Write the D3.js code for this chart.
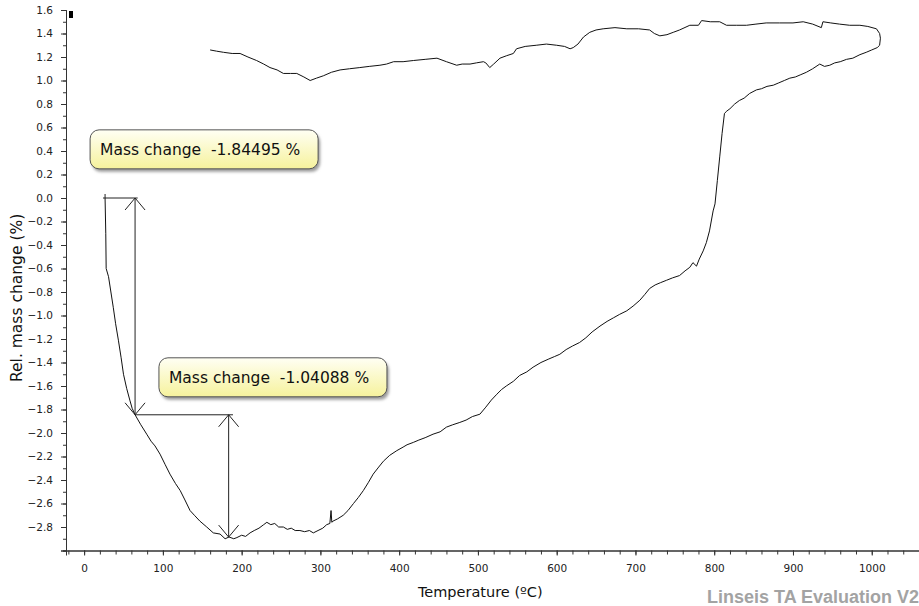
<!DOCTYPE html>
<html>
<head>
<meta charset="utf-8">
<script src="https://cdn.jsdelivr.net/npm/d3@7"></script>
<style>
    body { margin: 0; background: #fff; }
    svg { display: block; }
</style>
</head>
<body>
<div id="chart"></div>
<script>
// heating run then cooling run
const tempC = [
    26.6, 27.5, 28, 31, 34, 37, 40, 43.5, 47, 50, 54, 58, 61, 64.7, 72, 79.5, 85, 90, 96.4, 103,
    109, 116, 122, 128, 134.5, 140, 147, 155.7, 164, 172.6, 179, 184, 190, 194, 200, 205, 210.7, 216, 222, 228,
    232, 237, 242, 247, 253, 258, 263, 268, 274, 280, 286, 291, 297, 303, 308, 312, 313.5, 314.5, 316, 322,
    329, 335, 342, 348, 354.5, 361, 367, 374, 380, 388, 397, 405, 410, 418, 425, 433, 443, 452, 460, 468,
    477, 485, 493, 502.5, 510, 517, 524, 530, 536, 545, 553, 562, 570, 580, 590, 597, 604, 612, 620, 629,
    637, 645, 655, 664, 672, 680, 689, 697, 705.6, 712, 718, 725, 732, 739.5, 747, 756, 763, 769, 773, 777.5,
    781, 786, 790, 794, 798.6, 801, 804, 807, 810, 813, 816, 820, 826, 832, 838, 845, 853.6, 860, 867, 875,
    882, 889, 896, 903, 910, 917, 925, 934, 940, 946.7, 953, 960, 968, 976, 985, 993, 1000, 1007, 1010,
    1011, 1010, 1006, 995, 985, 972, 959, 948, 938, 936, 925, 913, 900, 883, 866, 853, 841, 828, 815.6, 807,
    795, 784, 780, 769, 756, 748, 740, 731, 724, 718, 704, 689, 674, 659, 650, 642, 634, 627, 621, 617,
    610, 600, 587, 574, 560, 549, 545, 536, 528, 520, 515, 510, 507, 498, 490, 480, 473, 460, 448, 433,
    418, 405, 393, 384, 375.6, 362, 350, 337, 325, 314, 303.7, 295, 287, 279, 270, 262, 253, 245, 236, 228,
    219, 208, 198, 188, 177, 168, 160
]
const massPct = [
    0.00, -0.30, -0.60, -0.67, -0.80, -0.93, -1.07, -1.21, -1.36, -1.50, -1.62, -1.72, -1.79, -1.845, -1.93, -2.01, -2.07, -2.11, -2.18, -2.27,
    -2.35, -2.43, -2.49, -2.57, -2.66, -2.70, -2.75, -2.80, -2.85, -2.86, -2.90, -2.885, -2.90, -2.89, -2.87, -2.88, -2.85, -2.83, -2.81, -2.78,
    -2.76, -2.78, -2.77, -2.80, -2.80, -2.82, -2.81, -2.83, -2.83, -2.84, -2.83, -2.85, -2.83, -2.81, -2.78, -2.77, -2.66, -2.76, -2.75, -2.73,
    -2.70, -2.66, -2.60, -2.55, -2.49, -2.42, -2.35, -2.29, -2.24, -2.19, -2.15, -2.12, -2.10, -2.08, -2.06, -2.04, -2.01, -1.99, -1.95, -1.93,
    -1.91, -1.89, -1.86, -1.84, -1.78, -1.72, -1.67, -1.63, -1.60, -1.56, -1.51, -1.48, -1.44, -1.40, -1.37, -1.35, -1.33, -1.29, -1.26, -1.23,
    -1.19, -1.14, -1.09, -1.05, -1.02, -0.99, -0.96, -0.92, -0.87, -0.82, -0.77, -0.74, -0.72, -0.70, -0.68, -0.66, -0.62, -0.59, -0.55, -0.58,
    -0.52, -0.45, -0.38, -0.28, -0.11, -0.05, 0.15, 0.35, 0.55, 0.72, 0.74, 0.76, 0.80, 0.83, 0.85, 0.89, 0.92, 0.93, 0.95, 0.96,
    0.98, 1.00, 1.02, 1.03, 1.05, 1.07, 1.10, 1.14, 1.12, 1.13, 1.15, 1.16, 1.18, 1.19, 1.22, 1.24, 1.26, 1.28, 1.30,
    1.36, 1.40, 1.44, 1.46, 1.47, 1.47, 1.48, 1.49, 1.50, 1.45, 1.48, 1.50, 1.49, 1.49, 1.49, 1.48, 1.47, 1.47, 1.47, 1.50,
    1.50, 1.51, 1.47, 1.47, 1.43, 1.41, 1.39, 1.38, 1.40, 1.43, 1.44, 1.44, 1.45, 1.44, 1.43, 1.41, 1.37, 1.31, 1.28, 1.27,
    1.29, 1.30, 1.31, 1.30, 1.29, 1.27, 1.23, 1.21, 1.19, 1.14, 1.11, 1.15, 1.16, 1.15, 1.14, 1.14, 1.13, 1.16, 1.19, 1.18,
    1.17, 1.16, 1.16, 1.14, 1.13, 1.12, 1.11, 1.10, 1.09, 1.07, 1.04, 1.02, 1.00, 1.03, 1.06, 1.06, 1.06, 1.09, 1.11, 1.14,
    1.17, 1.20, 1.23, 1.23, 1.24, 1.25, 1.26
]

// mass change steps: [temp of arrow, from, to], line starts at lineFrom, ends at lineTo
const stepTemp = [64.7, 183.5]
const stepFrom = [0.0, -1.84495]
const stepTo = [-1.84495, -2.88583]
const stepLineFrom = [24, 64.7]
const stepLineTo = [68, 189]
const stepLabels = ["Mass change  -1.84495 %", "Mass change  -1.04088 %"]
// label box corner, in data units
const boxTemp = [7.6, 95]
const boxMass = [0.58, -1.36]

const xTicksMajor = d3.range(0, 1001, 100)

const width = 919
const height = 606

const svg = d3.select("#chart").append("svg")
    .attr("width", width)
    .attr("height", height)

const x = d3.scaleLinear().domain([-23, 1060]).range([66, 919])
const y = d3.scaleLinear().domain([-3.0, 1.6]).range([550.5, 10])

const fontFam = "'DejaVu Sans', Verdana, sans-serif"

// axes
const yAxisMinor = d3.axisLeft(y).tickValues(d3.range(-3.0, 1.61, 0.1)).tickSize(3).tickFormat("")
const yAxis = d3.axisLeft(y).tickValues(d3.range(-3.0, 1.61, 0.2)).tickSize(5)
    .tickFormat(d => d < -2.9 ? "" : d3.format(".1f")(d))
const xAxisMinor = d3.axisBottom(x).tickValues(d3.range(-20, 1061, 20)).tickSize(4).tickFormat("")
const xAxis = d3.axisBottom(x).tickValues(xTicksMajor).tickSize(5).tickFormat(d3.format("d"))

function styleAxis(g) {
    g.select(".domain").attr("stroke", "#333")
    g.selectAll(".tick line").attr("stroke", "#333")
    g.selectAll("text")
        .attr("fill", "#222")
        .style("font-family", fontFam)
        .style("font-size", "10.5px")
}

svg.append("g").attr("transform", "translate(66,0)").call(yAxisMinor).call(styleAxis)
svg.append("g").attr("transform", "translate(66,0)").call(yAxis).call(styleAxis)
    .selectAll("text").attr("x", -13)
svg.append("g").attr("transform", "translate(0,550.5)").call(xAxisMinor).call(styleAxis)
svg.append("g").attr("transform", "translate(0,550.5)").call(xAxis).call(styleAxis)
    .selectAll("text").attr("y", 14)

// little marker at the top of the y axis
svg.append("rect")
    .attr("x", 69).attr("y", y(1.6) + 1)
    .attr("width", 4).attr("height", 7)
    .attr("fill", "#000")

svg.append("text")
    .attr("transform", `translate(22,${y(-0.85)}) rotate(-90)`)
    .attr("text-anchor", "middle")
    .style("font-family", fontFam)
    .style("font-size", "15.5px")
    .attr("fill", "#111")
    .text("Rel. mass change (%)")

svg.append("text")
    .attr("x", x(503))
    .attr("y", 597)
    .attr("text-anchor", "middle")
    .style("font-family", fontFam)
    .style("font-size", "14.5px")
    .attr("fill", "#111")
    .text("Temperature (ºC)")

svg.append("text")
    .attr("x", 707)
    .attr("y", 603)
    .style("font-family", "'Liberation Sans', Arial, sans-serif")
    .style("font-size", "18px")
    .style("font-weight", "bold")
    .attr("fill", "#a3a3a3")
    .text("Linseis TA Evaluation V2")

// the curve
const points = tempC.map((t, i) => [t, massPct[i]])
const line = d3.line().x(d => x(d[0])).y(d => y(d[1]))
svg.append("path")
    .datum(points)
    .attr("d", line)
    .attr("fill", "none")
    .attr("stroke", "#111")
    .attr("stroke-width", 1)

// step annotations
const ann = svg.append("g").attr("stroke", "#222").attr("stroke-width", 1).attr("fill", "none")
function arrowHead(px, py, dir) {
    // dir = -1 points up, 1 points down
    ann.append("path")
        .attr("d", `M${px - 10},${py - dir * 12}L${px},${py}L${px + 10},${py - dir * 12}`)
}
stepTemp.forEach((t, i) => {
    const px = x(t)
    ann.append("line")
        .attr("x1", x(stepLineFrom[i])).attr("x2", x(stepLineTo[i]))
        .attr("y1", y(stepFrom[i])).attr("y2", y(stepFrom[i]))
    ann.append("line")
        .attr("x1", px).attr("x2", px)
        .attr("y1", y(stepFrom[i])).attr("y2", y(stepTo[i]))
    arrowHead(px, y(stepFrom[i]), -1)
    arrowHead(px, y(stepTo[i]), 1)
})
// start tick
ann.append("line")
    .attr("x1", x(tempC[0])).attr("x2", x(tempC[0]))
    .attr("y1", y(massPct[0]) - 4).attr("y2", y(massPct[0]))

// label boxes
const defs = svg.append("defs")
const grad = defs.append("linearGradient").attr("id", "boxFill")
    .attr("x1", 0).attr("y1", 0).attr("x2", 0).attr("y2", 1)
grad.append("stop").attr("offset", "0%").attr("stop-color", "#fffff4")
grad.append("stop").attr("offset", "100%").attr("stop-color", "#f6f29c")
defs.append("filter").attr("id", "blur")
    .append("feGaussianBlur").attr("stdDeviation", 1.5)

const boxW = 228
const boxH = 39
stepLabels.forEach((lbl, i) => {
    const bx = x(boxTemp[i])
    const by = y(boxMass[i])
    svg.append("rect")
        .attr("x", bx + 2).attr("y", by + 3)
        .attr("width", boxW).attr("height", boxH)
        .attr("rx", 9)
        .attr("fill", "#9a9a9a")
        .attr("filter", "url(#blur)")
    svg.append("rect")
        .attr("x", bx).attr("y", by)
        .attr("width", boxW).attr("height", boxH)
        .attr("rx", 9)
        .attr("fill", "url(#boxFill)")
        .attr("stroke", "#555")
    svg.append("text")
        .attr("x", bx + 10)
        .attr("y", by + 25)
        .attr("xml:space", "preserve")
        .style("white-space", "pre")
        .style("font-family", fontFam)
        .style("font-size", "15.5px")
        .attr("fill", "#111")
        .text(lbl)
})
</script>
</body>
</html>
